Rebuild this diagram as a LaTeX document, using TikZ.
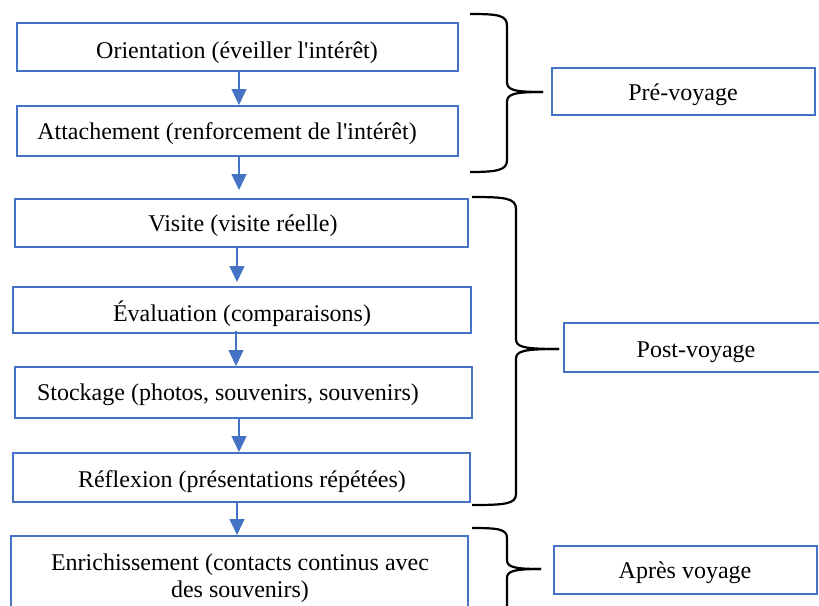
\documentclass[tikz,border=0pt]{standalone}
\usepackage{fontspec}
\setmainfont{Liberation Serif}
\usetikzlibrary{arrows.meta}
\definecolor{bl}{RGB}{68,114,196}
\begin{document}
\begin{tikzpicture}[x=1pt,y=-1pt,
  box/.style={draw=bl,line width=2pt,rectangle,inner sep=0pt},
  txt/.style={inner sep=0pt,anchor=base,font=\fontsize{24}{27.6}\selectfont},
  arr/.style={draw=bl,line width=1.4pt,-{Triangle[length=16pt,width=15pt]}},
  brace/.style={draw=black,line width=2.2pt}]
\clip (0,0) rectangle (819,605);
\fill[white] (0,0) rectangle (819,605);
% left boxes
\node[box,minimum width=441pt,minimum height=48pt] (b1) at (237.5,47) {};
\node[box,minimum width=441pt,minimum height=50pt] (b2) at (237.5,131) {};
\node[box,minimum width=453pt,minimum height=48pt] (b3) at (241.5,223) {};
\node[box,minimum width=458pt,minimum height=46pt] (b4) at (242,310) {};
\node[box,minimum width=457pt,minimum height=51pt] (b5) at (243.5,392.5) {};
\node[box,minimum width=457pt,minimum height=49pt] (b6) at (241.5,477.5) {};
\node[box,minimum width=457pt,minimum height=90pt] (b7) at (239.5,581) {};
% texts
\node[txt] (t1) at (237,58) {Orientation (éveiller l\textquotesingle intérêt)};
\node[txt] (t2) at (227,139) {Attachement (renforcement de l\textquotesingle intérêt)};
\node[txt] (t3) at (243,231) {Visite (visite réelle)};
\node[txt] (t4) at (242,321) {Évaluation (comparaisons)};
\node[txt] (t5) at (228,400) {Stockage (photos, souvenirs, souvenirs)};
\node[txt] (t6) at (242,487) {Réflexion (présentations répétées)};
\node[txt] (t7a) at (240,570) {Enrichissement (contacts continus avec};
\node[txt] (t7b) at (240,597) {des souvenirs)};
% right boxes
\node[box,minimum width=263pt,minimum height=47pt] (r1) at (683.5,91.5) {};
\node[txt] (rt1) at (683,100) {Pré-voyage};
\node[box,minimum width=256pt,minimum height=49pt] (r2) at (692,347.5) {};
\node[txt] (rt2) at (696,357) {Post-voyage};
\node[box,minimum width=263pt,minimum height=48pt] (r3) at (685.5,570) {};
\node[txt] (rt3) at (685,578) {Après voyage};
% arrow columns
\coordinate (xa) at (239,0);
\coordinate (xb) at (237,0);
\coordinate (xc) at (236,0);
\draw[arr] (b1.south -| xa) -- (b2.north -| xa);
\draw[arr] (b2.south -| xa) -- ([yshift=8pt]b3.north -| xa);
\draw[arr] (b3.south -| xb) -- ([yshift=4pt]b4.north -| xb);
\draw[arr] ([yshift=3pt]b4.south -| xc) -- (b5.north -| xc);
\draw[arr] (b5.south -| xa) -- (b6.north -| xa);
\draw[arr] (b6.south -| xb) -- (b7.north -| xb);
% braces
\coordinate (p1) at (543,92);
\draw[brace] (470,14) .. controls (498,14) and (507,15) .. (507,26) -- (507,82)
  .. controls (507,90) and (514,92) .. (p1);
\draw[brace] (p1) .. controls (514,92) and (507,94) .. (507,102) -- (507,160)
  .. controls (507,170) and (498,172) .. (470,172);
\coordinate (p2) at (559,349);
\draw[brace] (472,197) .. controls (505,197) and (516,198) .. (516,209) -- (516,339)
  .. controls (516,347) and (523,349) .. (p2);
\draw[brace] (p2) .. controls (523,349) and (516,351) .. (516,359) -- (516,494)
  .. controls (516,504) and (505,505) .. (472,505);
\coordinate (p3) at (541,569);
\draw[brace] (472,528) .. controls (498,528) and (507,529) .. (507,538) -- (507,560)
  .. controls (507,567) and (514,569) .. (p3);
\draw[brace] (p3) .. controls (514,569) and (507,571) .. (507,578) -- (507,610);
\end{tikzpicture}
\end{document}
